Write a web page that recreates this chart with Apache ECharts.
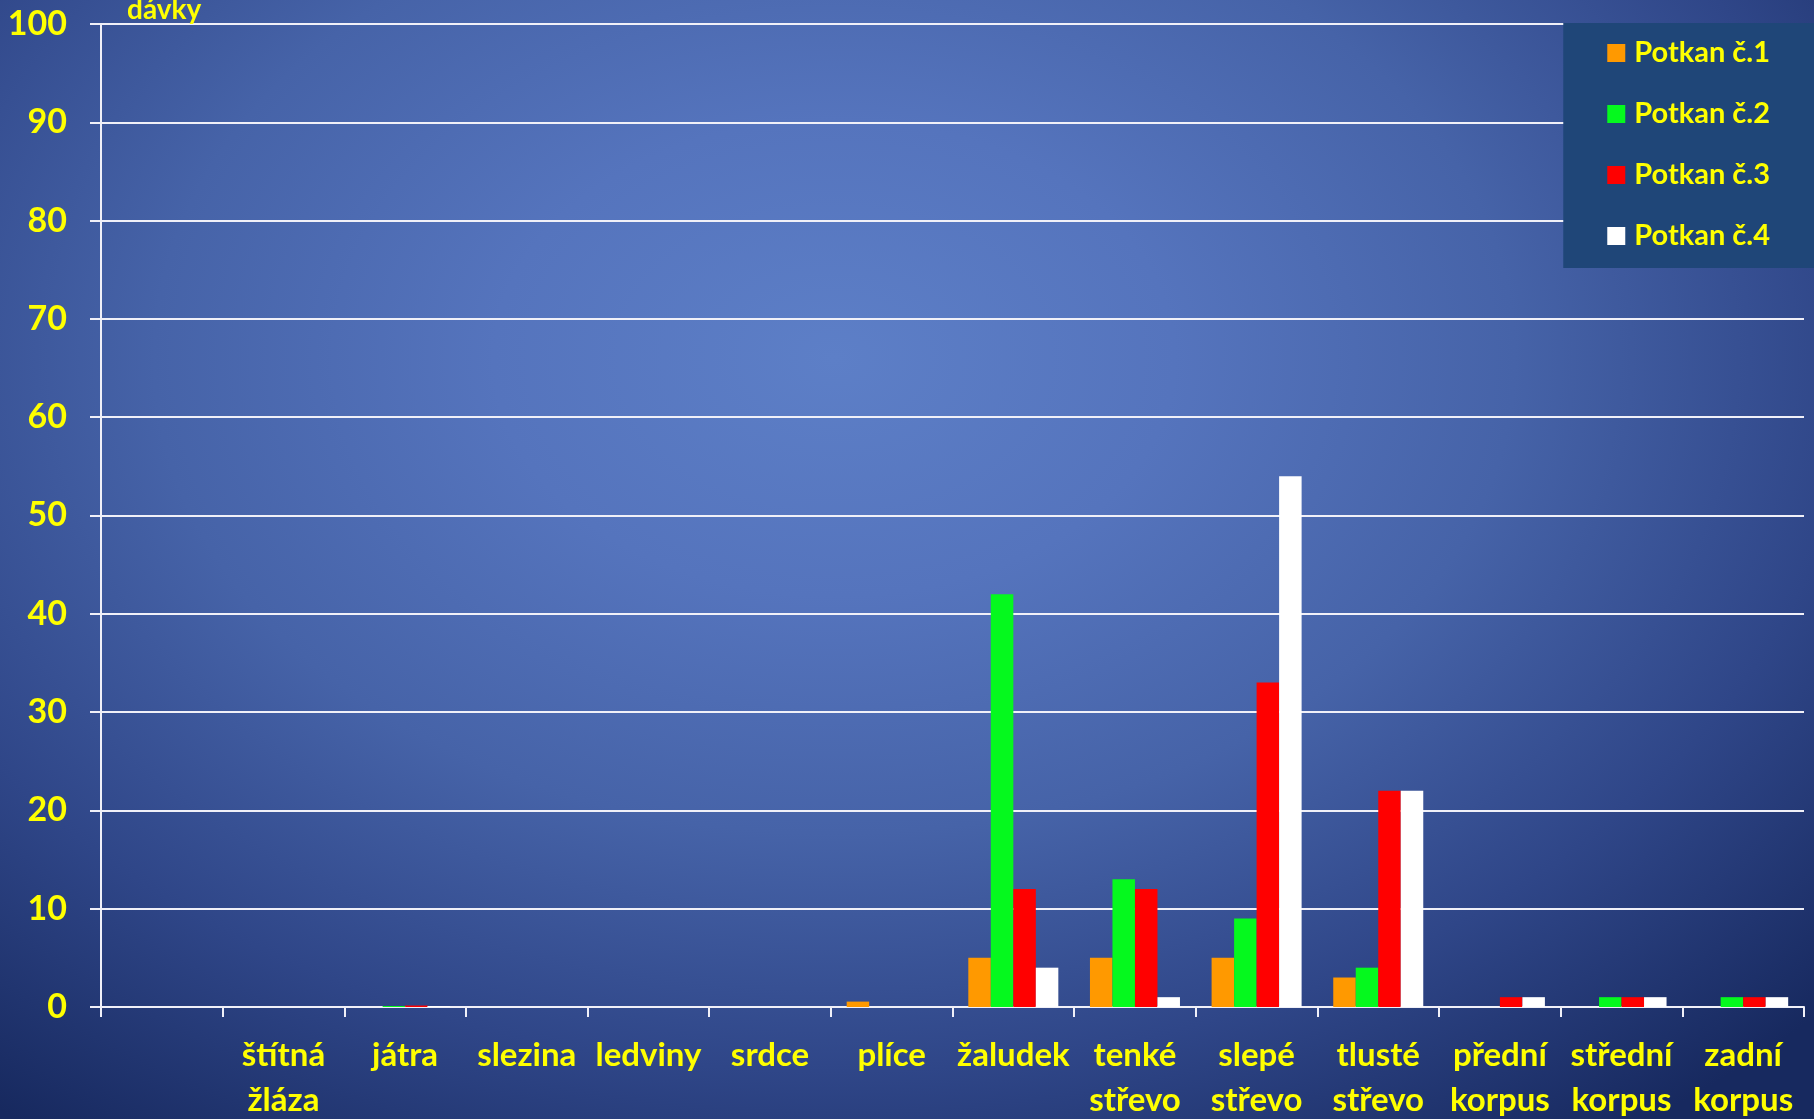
<!DOCTYPE html>
<html>
<head>
<meta charset="utf-8">
<script src="https://cdn.jsdelivr.net/npm/echarts@6/dist/echarts.min.js"></script>
<style>
html,body{margin:0;padding:0;width:1814px;height:1119px;overflow:hidden;}
#chart{width:1814px;height:1119px;
background: radial-gradient(ellipse 75% 85% at 46% 32%, #5d7fc7 0%, #5574bd 25%, #4663a8 50%, #2f4688 75%, #17295f 100%);}
</style>
</head>
<body>
<div id="chart"></div>
<script>
const categories = ['', 'štítná\nžláza', 'játra', 'slezina', 'ledviny', 'srdce', 'plíce', 'žaludek', 'tenké\nstřevo', 'slepé\nstřevo', 'tlusté\nstřevo', 'přední\nkorpus', 'střední\nkorpus', 'zadní\nkorpus'];
const seriesNames = ['Potkan č.1', 'Potkan č.2', 'Potkan č.3', 'Potkan č.4'];
const potkan1 = [0, 0, 0, 0, 0, 0, 0.55, 5, 5, 5, 3, 0, 0, 0];
const potkan2 = [0, 0, 0.1, 0, 0, 0, 0, 42, 13, 9, 4, 0, 1, 1];
const potkan3 = [0, 0, 0.15, 0, 0, 0, 0, 12, 12, 33, 22, 1, 1, 1];
const potkan4 = [0, 0, 0.1, 0, 0, 0, 0, 4, 1, 54, 22, 1, 1, 1];
const yTicks = [0, 10, 20, 30, 40, 50, 60, 70, 80, 90, 100];
const colors = ['#ff9900', '#05f91e', '#ff0000', '#ffffff'];

const yellow = '#ffff00';
const font = 'Lato';
const chart = echarts.init(document.getElementById('chart'));
const dataSets = [potkan1, potkan2, potkan3, potkan4];
chart.setOption({
  backgroundColor: 'transparent',
  animation: false,
  grid: {left: 101, right: 10, top: 24, bottom: 112, containLabel: false, outerBoundsMode: 'none'},
  legend: {
    orient: 'vertical', right: 0, top: 23,
    backgroundColor: '#1f4678',
    padding: [15, 44, 17, 44],
    itemGap: 31, itemWidth: 18, itemHeight: 18,
    icon: 'rect',
    textStyle: {color: yellow, fontFamily: font, fontWeight: 'bold', fontSize: 29, lineHeight: 30, padding: [0,0,0,4]},
    data: seriesNames
  },
  xAxis: {
    type: 'category', data: categories,
    axisLine: {lineStyle: {color: '#f0f0f8', width: 2}},
    axisTick: {show: true, length: 10, lineStyle: {color: '#f0f0f8', width: 2}},
    axisLabel: {interval: 0, color: yellow, fontFamily: font, fontWeight: 'bold', fontSize: 33, lineHeight: 45, margin: 26}
  },
  yAxis: {
    type: 'value', min: 0, max: 100, interval: 10,
    name: 'dávky', nameLocation: 'end', nameGap: 14,
    nameTextStyle: {color: yellow, fontFamily: font, fontWeight: 'bold', fontSize: 28, align: 'left', verticalAlign: 'middle', padding: [0,0,0,26]},
    axisLine: {show: true, lineStyle: {color: '#f0f0f8', width: 2}},
    axisTick: {show: true, length: 11, inside: false, lineStyle: {color: '#f0f0f8', width: 2}},
    splitLine: {lineStyle: {color: '#f0f0f8', width: 2}},
    axisLabel: {color: yellow, fontFamily: font, fontWeight: 'bold', fontSize: 34, margin: 34,
      formatter: v => yTicks.includes(v) ? String(v) : ''}
  },
  series: dataSets.map((d, i) => ({
    name: seriesNames[i], type: 'bar', data: d,
    barGap: '0%', barCategoryGap: '26%',
    itemStyle: {color: colors[i]}
  }))
});
</script>
</body>
</html>
